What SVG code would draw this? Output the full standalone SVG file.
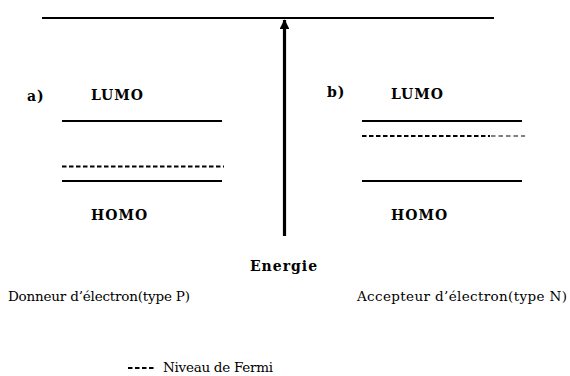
<svg xmlns="http://www.w3.org/2000/svg" width="570" height="376" viewBox="0 0 570 376">
  <style>
    .lvl { stroke: #000; stroke-width: 2.2; fill: none; }
    .fermi { stroke: #000; stroke-width: 2; stroke-dasharray: 4.5 2.5; fill: none; }
    .fermi-light { stroke: #000; stroke-width: 1.2; stroke-dasharray: 4.5 3; fill: none; }
    .lbl { font-family: "DejaVu Serif", "Liberation Serif", serif; font-weight: bold; font-size: 14px; letter-spacing: 1px; fill: #000; }
    .cap { font-family: "DejaVu Serif", "Liberation Serif", serif; font-size: 13.5px; fill: #000; }
  </style>
  <defs>
    <marker id="head" markerWidth="3" markerHeight="3" refX="2.8" refY="1.5" orient="auto" markerUnits="strokeWidth">
      <path d="M0,0 L3,1.5 L0,3 Z" fill="#000"/>
    </marker>
  </defs>
  <rect width="570" height="376" fill="#fff"/>

  <!-- vacuum level and energy axis -->
  <g id="connectors">
    <line x1="42" y1="18" x2="494" y2="18" class="lvl"/>
    <line x1="284.5" y1="236" x2="284.5" y2="20" stroke="#000" stroke-width="3.2" marker-end="url(#head)"/>
  </g>

  <g id="energy-label">
    <text x="284" y="271" class="lbl" font-size="16" text-anchor="middle" letter-spacing="0.5">Energie</text>
  </g>

  <!-- a) electron donor -->
  <g id="donor">
    <text x="27" y="101" class="lbl">a)</text>
    <text x="91" y="100" class="lbl">LUMO</text>
    <line x1="62" y1="121" x2="222" y2="121" class="lvl"/>
    <line x1="62" y1="166.5" x2="224" y2="166.5" class="fermi"/>
    <line x1="62" y1="181" x2="222" y2="181" class="lvl"/>
    <text x="91" y="220" class="lbl">HOMO</text>
    <text x="8" y="301" class="cap" textLength="182">Donneur d’électron(type P)</text>
  </g>

  <!-- b) electron acceptor -->
  <g id="acceptor">
    <text x="327" y="97" class="lbl" letter-spacing="2">b)</text>
    <text x="391" y="99" class="lbl">LUMO</text>
    <line x1="362" y1="121" x2="522" y2="121" class="lvl"/>
    <line x1="362" y1="136" x2="490" y2="136" class="fermi"/>
    <line x1="491" y1="136" x2="525" y2="136" class="fermi-light"/>
    <line x1="362" y1="181" x2="522" y2="181" class="lvl"/>
    <text x="391" y="220" class="lbl">HOMO</text>
    <text x="357" y="301" class="cap" textLength="210">Accepteur d’électron(type N)</text>
  </g>

  <!-- legend -->
  <g id="legend">
    <line x1="128" y1="368" x2="156" y2="368" class="fermi"/>
    <text x="163" y="372" class="cap" font-size="13" textLength="110">Niveau de Fermi</text>
  </g>
</svg>
